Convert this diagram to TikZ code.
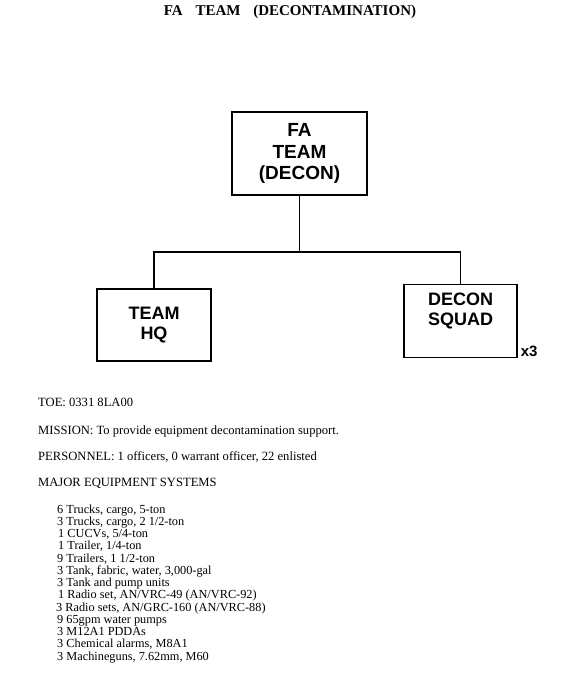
\documentclass[tikz,border=0pt]{standalone}
\usepackage{fontspec}
\setmainfont{Liberation Serif}
\setsansfont{Liberation Sans}
\begin{document}
\begin{tikzpicture}[x=1pt,y=-1pt,
  unit/.style={draw,line width=1.2pt,align=center,inner sep=0pt},
  utext/.style={inner sep=0pt,align=center,font=\sffamily\bfseries\fontsize{18}{19.5}\selectfont},
  conn/.style={line width=1.2pt},
  body/.style={anchor=base west,inner sep=0pt,font=\fontsize{12.6}{14}\selectfont},
  item/.style={body,font=\fontsize{12.3}{14}\selectfont}]
\useasboundingbox (0,0) rectangle (574,693);
\node[anchor=base,inner sep=0pt,font=\bfseries\fontsize{15}{17}\selectfont] (title) at (290,16) {FA\hspace{0.85em}TEAM\hspace{0.85em}(DECONTAMINATION)};
% boxes
\node[unit,minimum width=135pt,minimum height=83pt,font=\sffamily\bfseries\fontsize{19}{21.5}\selectfont] (fa) at (299.5,153.5) {FA\\TEAM\\(DECON)};
\node[unit,minimum width=114pt,minimum height=72pt] (hq) at (154,325) {};
\node[utext] (hqt) at (hq.center) {TEAM\\HQ};
\node[unit,minimum width=113pt,minimum height=73pt,anchor=north] (sq) at (460.5,284) {};
\node[utext] (sqt) at ([yshift=10pt]sq.center) {DECON\\SQUAD};
\node[anchor=west,inner sep=0pt,font=\sffamily\bfseries\fontsize{15}{17}\selectfont] (x3) at ([xshift=3pt,yshift=7pt]sq.south east) {x3};
% connectors
\coordinate (bus) at (299.5,252);
\draw[conn] (fa.south) -- (bus);
\draw[conn] (hq.north) |- (bus) -| (sq.north);
% text
\node[body] (toe) at (38,406) {TOE: 0331 8LA00};
\node[body] (mis) at (38,434) {MISSION: To provide equipment decontamination support.};
\node[body] (per) at (38,460) {PERSONNEL: 1 officers, 0 warrant officer, 22 enlisted};
\node[body] (mes) at (38,486) {MAJOR EQUIPMENT SYSTEMS};
\node[item] (i1) at (57,513) {6 Trucks, cargo, 5-ton};
\node[item] (i2) at (57,525.25) {3 Trucks, cargo, 2 1/2-ton};
\node[item] (i3) at (58,537.5) {1 CUCVs, 5/4-ton};
\node[item] (i4) at (58,549.75) {1 Trailer, 1/4-ton};
\node[item] (i5) at (57,562) {9 Trailers, 1 1/2-ton};
\node[item] (i6) at (57,574.25) {3 Tank, fabric, water, 3,000-gal};
\node[item] (i7) at (57,586.5) {3 Tank and pump units};
\node[item] (i8) at (58,598.75) {1 Radio set, AN/VRC-49 (AN/VRC-92)};
\node[item] (i9) at (56,611) {3 Radio sets, AN/GRC-160 (AN/VRC-88)};
\node[item] (i10) at (57,623.25) {9 65gpm water pumps};
\node[item] (i11) at (57,635.5) {3 M12A1 PDDAs};
\node[item] (i12) at (57,647.75) {3 Chemical alarms, M8A1};
\node[item] (i13) at (57,660) {3 Machineguns, 7.62mm, M60};
\end{tikzpicture}
\end{document}
